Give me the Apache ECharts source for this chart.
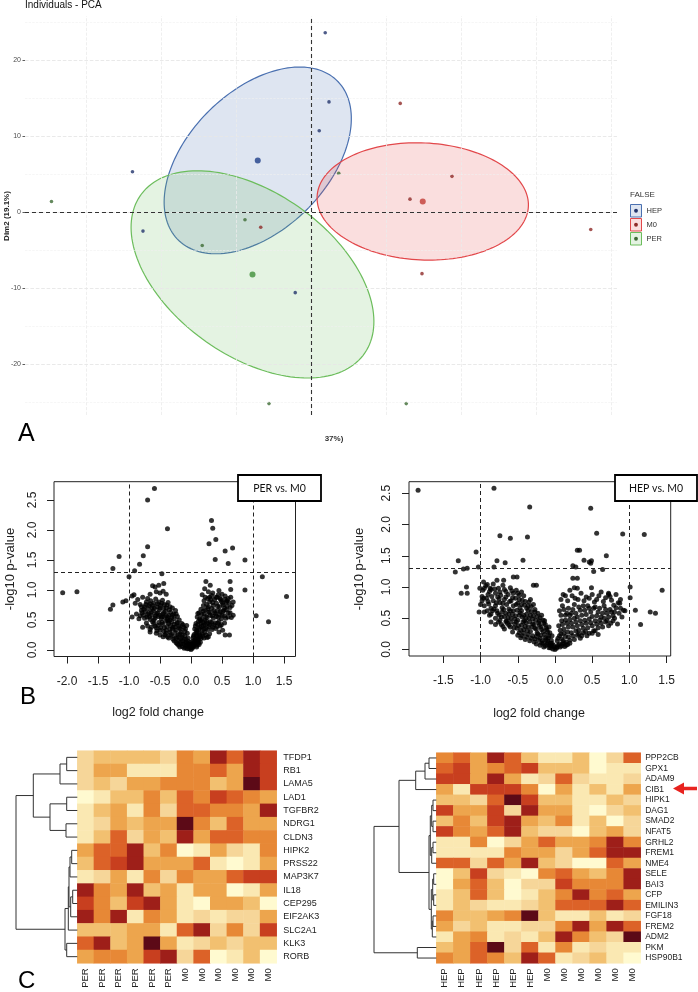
<!DOCTYPE html>
<html>
<head>
<meta charset="utf-8">
<script src="https://cdn.jsdelivr.net/npm/echarts@6/dist/echarts.min.js"></script>
<style>
html,body{margin:0;padding:0;background:#fff}
#main{width:698px;height:992px}
</style>
</head>
<body>
<div id="main"></div>
<script>
// ---------- A: PCA individuals ----------
const pcaHep = [[1.9,23.6],[2.4,14.5],[1.1,10.7],[-23.8,5.3],[-22.4,-2.5],[-2.1,-10.6]];
const pcaM0  = [[11.9,14.3],[18.8,4.7],[13.2,1.7],[37.3,-2.3],[14.8,-8.1],[-6.7,-2.0]];
const pcaPer = [[-34.6,1.4],[3.7,5.1],[-8.8,-1.0],[-14.5,-4.4],[-5.6,-25.2],[12.7,-25.2]];
const pcaCentroids = [[-7.1,6.8],[14.9,1.4],[-7.8,-8.2]];      // HEP, M0, PER
// concentration ellipses: centre x, centre y, semi-major, semi-minor, angle (deg)
const pcaEllipses = [[-7.1,6.8,14.9,9.2,44],[14.9,1.4,14.1,7.7,-2.6],[-7.8,-8.2,18.2,10.8,-34.6]];
const pcaGroups = ['HEP','M0','PER'];
const pcaYTicks = [-20,-10,0,10,20];
const pcaGridMajorY = [-20,-10,0,10,20];
const pcaGridMinorY = [-25,-15,-5,5,15,25];
const pcaGridX = [-30,-20,-10,0,10,20,30,40];

// ---------- B: volcano plots ----------
const volcLeftTicksX = [-2,-1.5,-1,-0.5,0,0.5,1,1.5];
const volcRightTicksX = [-1.5,-1,-0.5,0,0.5,1,1.5];
const volcTicksY = [0,0.5,1,1.5,2,2.5];
const fcCut = [-1,1];
const pCut = 1.3;

const perVsM0 = [
[-0.59,2.69],[-0.70,2.50],[-0.38,2.02],[0.33,2.16],[0.35,2.03],[0.40,1.84],[0.29,1.77],[0.55,1.65],[0.67,1.70],
[0.39,1.51],[0.60,1.44],[0.87,1.50],[-0.70,1.72],[-0.77,1.57],[-0.83,1.43],[-0.91,1.32],[-1.00,1.22],[-1.16,1.56],
[-1.26,1.36],[-2.07,0.955],[-1.84,0.97],[1.15,1.22],[0.87,1.0],[1.54,0.89],[1.05,0.57],[1.25,0.47],[-0.47,1.27],
[-0.44,1.11],[0.63,1.14],[0.64,1.01],[0.24,1.14],[0.31,1.08],[-1.30,0.68],[-1.26,0.75],[-1.10,0.80],[-1.05,0.82],
[-0.95,0.90],[-0.92,0.92],[-0.90,0.78],
[-0.62,1.07],[-0.58,1.05],[-0.52,1.08],[-0.56,0.97],[-0.50,0.95],[-0.45,0.98],[-0.40,0.93],[-0.66,0.93],
[0.22,1.02],[0.28,0.97],[0.35,0.95],[0.45,0.99],[0.50,0.93],[0.55,0.90],[0.42,0.88],[0.30,0.88],[0.58,0.82],[0.48,0.84],
[-0.86,0.84],[-0.82,0.76],[-0.78,0.88],[-0.75,0.72],[-0.72,0.80],[-0.70,0.86],[-0.68,0.74],[-0.65,0.82],[-0.63,0.70],
[-0.60,0.78],[-0.57,0.85],[-0.55,0.72],[-0.52,0.80],[-0.49,0.74],[-0.46,0.83],[-0.43,0.76],[-0.40,0.70],[-0.37,0.79],[-0.34,0.72],
[-0.95,0.55],[-0.88,0.60],[-0.84,0.52],[-0.80,0.66],[-0.77,0.58],[-0.74,0.64],[-0.71,0.55],[-0.68,0.62],[-0.66,0.51],
[-0.63,0.58],[-0.61,0.66],[-0.58,0.53],[-0.56,0.61],[-0.53,0.56],[-0.51,0.67],[-0.48,0.52],[-0.46,0.60],[-0.43,0.55],
[-0.41,0.64],[-0.38,0.51],[-0.36,0.58],[-0.33,0.63],[-0.31,0.54],[-0.28,0.60],[-0.25,0.66],[-0.22,0.56],
[-0.78,0.38],[-0.72,0.45],[-0.66,0.34],[-0.62,0.47],[-0.58,0.40],[-0.55,0.32],[-0.52,0.46],[-0.49,0.37],[-0.46,0.43],
[-0.44,0.31],[-0.41,0.48],[-0.39,0.39],[-0.36,0.44],[-0.34,0.34],[-0.31,0.47],[-0.29,0.38],[-0.27,0.43],[-0.24,0.33],
[-0.22,0.46],[-0.20,0.40],[-0.17,0.35],[-0.15,0.44],[-0.12,0.38],[-0.10,0.31],[-0.66,0.30],[-0.56,0.28],
[-0.50,0.25],[-0.45,0.22],[-0.40,0.28],[-0.36,0.20],[-0.32,0.26],[-0.29,0.18],[-0.26,0.29],[-0.23,0.22],[-0.20,0.16],
[-0.18,0.27],[-0.15,0.21],[-0.13,0.15],[-0.10,0.24],[-0.08,0.18],[-0.06,0.28],
[-0.24,0.12],[-0.20,0.08],[-0.17,0.13],[-0.14,0.06],[-0.12,0.10],[-0.09,0.04],[-0.07,0.12],[-0.05,0.07],[-0.03,0.02],
[-0.02,0.09],[0.0,0.01],[0.01,0.05],[-0.01,0.13],
[-0.80,0.72],[-0.76,0.68],[-0.73,0.76],[-0.69,0.69],[-0.66,0.77],[-0.62,0.74],[-0.59,0.69],[-0.54,0.77],[-0.50,0.70],
[-0.47,0.78],[-0.44,0.69],[-0.39,0.75],[-0.35,0.67],[-0.30,0.70],
[-0.82,0.57],[-0.79,0.62],[-0.75,0.53],[-0.70,0.59],[-0.67,0.55],[-0.64,0.63],[-0.60,0.50],[-0.57,0.57],[-0.54,0.62],
[-0.50,0.58],[-0.47,0.55],[-0.44,0.62],[-0.40,0.57],[-0.37,0.54],[-0.34,0.50],[-0.30,0.58],[-0.27,0.52],[-0.24,0.60],[-0.19,0.50],
[-0.70,0.40],[-0.64,0.38],[-0.60,0.44],[-0.56,0.37],[-0.53,0.41],[-0.50,0.33],[-0.47,0.46],[-0.43,0.37],[-0.40,0.33],
[-0.37,0.48],[-0.33,0.41],[-0.30,0.35],[-0.26,0.38],[-0.23,0.44],[-0.19,0.37],[-0.16,0.30],[-0.13,0.42],[-0.09,0.35],[-0.07,0.41],
[-0.42,0.25],[-0.38,0.22],[-0.34,0.29],[-0.30,0.23],[-0.27,0.15],[-0.24,0.19],[-0.21,0.25],[-0.17,0.19],[-0.14,0.25],
[-0.11,0.18],[-0.09,0.12],[-0.05,0.20],[-0.04,0.14],
[-0.22,0.10],[-0.18,0.05],[-0.16,0.10],[-0.11,0.03],[-0.08,0.08],[-0.06,0.02],[-0.04,0.10],[-0.02,0.05],[0.0,0.08],
[0.18,0.92],[0.21,0.82],[0.25,0.76],[0.27,0.86],[0.30,0.80],[0.33,0.91],[0.36,0.74],[0.38,0.84],[0.41,0.78],[0.44,0.92],
[0.46,0.72],[0.49,0.81],[0.52,0.75],[0.55,0.84],[0.58,0.73],[0.61,0.79],[0.64,0.88],[0.66,0.74],
[0.10,0.55],[0.13,0.62],[0.16,0.68],[0.18,0.52],[0.21,0.60],[0.23,0.67],[0.26,0.54],[0.28,0.63],[0.31,0.58],[0.33,0.69],
[0.36,0.53],[0.38,0.62],[0.41,0.56],[0.43,0.66],[0.46,0.59],[0.49,0.52],[0.51,0.64],[0.54,0.57],[0.57,0.67],[0.60,0.55],
[0.63,0.62],[0.68,0.58],
[0.06,0.35],[0.08,0.44],[0.10,0.31],[0.12,0.48],[0.14,0.38],[0.16,0.45],[0.18,0.33],[0.20,0.41],[0.22,0.49],[0.24,0.36],
[0.26,0.44],[0.29,0.39],[0.31,0.47],[0.34,0.34],[0.37,0.42],[0.40,0.36],[0.43,0.45],[0.47,0.40],[0.51,0.33],
[0.03,0.20],[0.05,0.26],[0.07,0.17],[0.09,0.24],[0.11,0.19],[0.13,0.28],[0.15,0.22],[0.18,0.27],[0.21,0.20],[0.24,0.25],
[0.28,0.22],[0.55,0.25],[0.62,0.25],[0.45,0.30],
[0.02,0.03],[0.03,0.10],[0.05,0.07],[0.07,0.12],[0.09,0.05],[0.11,0.14],[0.13,0.09],[0.15,0.13],[0.04,0.15],
[0.20,0.74],[0.23,0.88],[0.28,0.72],[0.32,0.84],[0.35,0.79],[0.40,0.88],[0.43,0.73],[0.47,0.86],[0.51,0.78],[0.54,0.70],
[0.57,0.80],[0.60,0.86],[0.63,0.71],[0.68,0.80],
[0.11,0.61],[0.14,0.52],[0.17,0.59],[0.20,0.65],[0.24,0.56],[0.27,0.69],[0.30,0.63],[0.34,0.57],[0.37,0.66],[0.40,0.60],
[0.44,0.54],[0.47,0.64],[0.50,0.58],[0.53,0.66],[0.56,0.53],[0.60,0.62],[0.65,0.54],
[0.07,0.40],[0.09,0.33],[0.11,0.42],[0.13,0.35],[0.15,0.49],[0.17,0.39],[0.19,0.46],[0.21,0.35],[0.23,0.42],[0.25,0.48],
[0.27,0.34],[0.30,0.42],[0.33,0.46],[0.35,0.38],[0.39,0.45],[0.42,0.39],[0.45,0.47],[0.49,0.42],[0.54,0.45],
[0.04,0.23],[0.06,0.16],[0.08,0.28],[0.10,0.22],[0.12,0.17],[0.14,0.25],[0.16,0.19],[0.19,0.23],[0.22,0.29],[0.26,0.21],[0.30,0.27],
[0.01,0.08],[0.03,0.05],[0.04,0.12],[0.06,0.10],[0.08,0.14],[0.10,0.08],[0.12,0.12]
];

const hepVsM0 = [
[-1.84,2.55],[-0.82,2.58],[-0.34,2.28],[0.48,2.26],[-0.74,1.82],[-0.60,1.78],[-0.37,1.80],[0.56,1.86],[0.91,1.85],
[1.20,1.84],[-1.06,1.56],[-1.30,1.42],[-1.34,1.24],[-1.23,1.29],[-1.18,1.30],[-1.03,1.32],[-0.78,1.42],[-0.67,1.39],
[-0.43,1.43],[-0.82,1.32],[0.30,1.59],[0.33,1.59],[0.24,1.34],[0.28,1.32],[0.39,1.43],[0.46,1.40],[0.49,1.42],
[0.48,1.38],[0.52,1.25],[0.69,1.50],[0.64,1.28],[-1.26,0.90],[-1.18,0.90],[-1.19,1.0],[-1.01,0.98],[-1.02,0.60],
[1.01,1.0],[1.44,0.95],[1.28,0.60],[1.35,0.58],[1.15,0.40],[1.01,0.83],[1.08,0.63],
[-0.78,1.11],[-0.69,1.11],[-0.56,1.16],[-0.51,1.16],[-0.29,1.03],[-0.25,1.03],[0.24,1.14],[0.30,1.14],[0.49,0.99],
[0.26,0.99],[0.30,0.98],[0.72,0.90],[0.74,0.85],[0.87,0.74],[0.92,0.63],[-0.96,1.08],[-0.91,1.04],[-0.87,0.98],
[-0.97,0.95],[-0.93,1.02],[-0.90,0.88],[-0.86,0.96],[-0.83,1.05],[-0.80,0.90],[-0.76,0.98],[-0.73,0.87],[-0.70,1.03],
[-0.66,0.93],[-0.63,0.88],[-0.60,0.99],[-0.56,0.90],[-0.52,0.95],[-0.48,0.87],[-0.45,0.92],
[-0.98,0.78],[-0.95,0.70],[-0.92,0.82],[-0.89,0.73],[-0.86,0.66],[-0.83,0.78],[-0.80,0.70],[-0.77,0.84],[-0.74,0.75],
[-0.71,0.67],[-0.68,0.80],[-0.65,0.72],[-0.62,0.65],[-0.59,0.78],[-0.56,0.70],[-0.53,0.82],[-0.50,0.74],[-0.47,0.67],
[-0.44,0.79],[-0.41,0.71],[-0.38,0.66],[-0.35,0.76],[-0.32,0.69],[-0.95,0.60],[-1.0,0.72],[-0.98,0.85],
[-0.88,0.55],[-0.84,0.62],[-0.80,0.50],[-0.77,0.58],[-0.74,0.47],[-0.71,0.60],[-0.68,0.53],[-0.65,0.46],[-0.62,0.57],
[-0.59,0.50],[-0.56,0.62],[-0.53,0.54],[-0.50,0.47],[-0.47,0.59],[-0.44,0.52],[-0.41,0.46],[-0.38,0.57],[-0.35,0.50],
[-0.32,0.61],[-0.29,0.54],[-0.26,0.47],[-0.23,0.58],[-0.20,0.51],[-0.86,0.44],[-0.80,0.40],
[-0.72,0.40],[-0.68,0.33],[-0.64,0.42],[-0.60,0.36],[-0.57,0.28],[-0.54,0.41],[-0.51,0.34],[-0.48,0.27],[-0.45,0.39],
[-0.42,0.32],[-0.39,0.43],[-0.36,0.36],[-0.33,0.29],[-0.30,0.41],[-0.27,0.34],[-0.24,0.27],[-0.21,0.39],[-0.18,0.32],
[-0.15,0.42],[-0.12,0.35],[-0.10,0.28],
[-0.44,0.22],[-0.40,0.16],[-0.36,0.24],[-0.32,0.18],[-0.28,0.12],[-0.25,0.21],[-0.22,0.15],[-0.19,0.23],[-0.16,0.11],
[-0.13,0.19],[-0.10,0.14],[-0.08,0.22],[-0.06,0.10],
[-0.20,0.07],[-0.15,0.04],[-0.11,0.08],[-0.08,0.03],[-0.05,0.06],[-0.03,0.01],[-0.01,0.04],[0.0,0.0],
[-0.95,0.98],[-0.88,0.93],[-0.81,0.97],[-0.74,0.92],[-0.68,0.96],[-0.58,0.94],[-0.50,0.90],[-0.42,0.86],
[-0.96,0.82],[-0.90,0.77],[-0.85,0.85],[-0.79,0.75],[-0.75,0.81],[-0.70,0.74],[-0.66,0.84],[-0.61,0.77],[-0.57,0.83],
[-0.52,0.72],[-0.48,0.80],[-0.45,0.72],[-0.40,0.77],[-0.36,0.70],[-0.33,0.80],[-0.29,0.72],[-0.27,0.64],
[-0.91,0.62],[-0.86,0.57],[-0.82,0.65],[-0.78,0.62],[-0.75,0.55],[-0.72,0.52],[-0.69,0.64],[-0.66,0.58],[-0.63,0.51],
[-0.60,0.62],[-0.57,0.56],[-0.54,0.49],[-0.51,0.63],[-0.48,0.55],[-0.45,0.62],[-0.42,0.55],[-0.39,0.50],[-0.36,0.63],
[-0.33,0.55],[-0.30,0.49],[-0.27,0.60],[-0.24,0.53],[-0.21,0.46],[-0.18,0.55],[-0.16,0.47],
[-0.76,0.44],[-0.70,0.37],[-0.66,0.45],[-0.62,0.39],[-0.59,0.44],[-0.55,0.35],[-0.52,0.44],[-0.49,0.38],[-0.46,0.31],
[-0.43,0.44],[-0.40,0.37],[-0.37,0.30],[-0.34,0.44],[-0.31,0.36],[-0.28,0.40],[-0.25,0.33],[-0.22,0.43],[-0.19,0.36],
[-0.16,0.29],[-0.13,0.40],[-0.11,0.32],[-0.08,0.36],[-0.14,0.46],
[-0.50,0.23],[-0.46,0.19],[-0.42,0.26],[-0.38,0.20],[-0.34,0.14],[-0.30,0.22],[-0.27,0.17],[-0.23,0.25],[-0.20,0.18],
[-0.17,0.14],[-0.14,0.24],[-0.12,0.16],[-0.09,0.19],[-0.07,0.27],[-0.05,0.15],[-0.04,0.22],
[-0.25,0.09],[-0.18,0.10],[-0.13,0.06],[-0.10,0.11],[-0.07,0.07],[-0.04,0.10],[-0.02,0.07],[-0.06,0.03],
[0.08,0.80],[0.14,0.86],[0.20,0.95],[0.27,0.82],[0.35,0.90],[0.42,0.84],[0.50,0.88],[0.56,0.80],[0.62,0.92],[0.68,0.83],
[0.76,0.79],[0.82,0.88],[0.88,0.80],
[0.06,0.62],[0.10,0.70],[0.14,0.55],[0.18,0.66],[0.22,0.58],[0.26,0.72],[0.30,0.52],[0.34,0.63],[0.38,0.70],[0.42,0.56],
[0.46,0.66],[0.50,0.53],[0.54,0.68],[0.58,0.60],[0.62,0.52],[0.66,0.70],[0.70,0.58],[0.74,0.64],[0.78,0.54],[0.82,0.67],
[0.86,0.58],[0.90,0.52],[0.94,0.62],
[0.05,0.38],[0.09,0.46],[0.12,0.33],[0.16,0.42],[0.20,0.48],[0.24,0.36],[0.28,0.44],[0.32,0.31],[0.36,0.40],[0.40,0.47],
[0.44,0.35],[0.48,0.43],[0.52,0.30],[0.56,0.41],[0.60,0.47],[0.64,0.36],[0.68,0.44],[0.72,0.38],[0.78,0.46],[0.84,0.41],
[0.03,0.14],[0.06,0.22],[0.09,0.17],[0.12,0.26],[0.15,0.12],[0.18,0.20],[0.22,0.27],[0.26,0.16],[0.30,0.23],[0.34,0.18],
[0.38,0.27],[0.43,0.22],[0.50,0.26],[0.58,0.24],
[0.02,0.02],[0.04,0.07],[0.07,0.04],[0.10,0.09],[0.13,0.05],[0.17,0.08],
[0.11,0.88],[0.17,0.78],[0.23,0.86],[0.31,0.80],[0.39,0.78],[0.46,0.82],[0.53,0.76],[0.59,0.86],[0.65,0.77],[0.72,0.88],
[0.79,0.71],[0.85,0.75],
[0.08,0.55],[0.12,0.64],[0.16,0.58],[0.20,0.55],[0.24,0.64],[0.28,0.58],[0.32,0.68],[0.36,0.55],[0.40,0.63],[0.44,0.70],
[0.48,0.60],[0.52,0.66],[0.56,0.54],[0.60,0.66],[0.64,0.58],[0.68,0.64],[0.72,0.52],[0.76,0.60],[0.80,0.60],[0.88,0.66],
[0.07,0.31],[0.10,0.40],[0.14,0.47],[0.18,0.36],[0.22,0.42],[0.26,0.50],[0.30,0.38],[0.34,0.46],[0.38,0.34],[0.42,0.42],
[0.46,0.49],[0.50,0.38],[0.54,0.46],[0.58,0.35],[0.62,0.42],[0.66,0.50],[0.70,0.46],[0.75,0.42],[0.80,0.50],
[0.04,0.18],[0.08,0.25],[0.11,0.14],[0.14,0.21],[0.17,0.28],[0.20,0.15],[0.24,0.22],[0.28,0.30],[0.32,0.25],[0.36,0.22],
[0.41,0.29],[0.46,0.26],[0.54,0.30],
[0.03,0.04],[0.06,0.09],[0.09,0.06],[0.12,0.10],[0.15,0.07],[0.20,0.10]
];

// ---------- C: heatmaps ----------
const heatLeftRows = ['TFDP1','RB1','LAMA5','LAD1','TGFBR2','NDRG1','CLDN3','HIPK2','PRSS22','MAP3K7','IL18','CEP295','EIF2AK3','SLC2A1','KLK3','RORB'];
const heatLeftCols = ['PER','PER','PER','PER','PER','PER','M0','M0','M0','M0','M0','M0'];
const heatLeftValues = [
[2,3,3,3,3,2,5,4,8,6,8,7],
[2,4,4,1,1,1,5,5,6,4,8,7],
[2,3,2,4,4,5,5,5,3,4,9,7],
[0,1,3,3,5,3,6,5,7,6,5,4],
[1,3,4,1,5,2,6,6,5,5,4,8],
[1,2,4,3,4,4,9,5,3,6,4,4],
[1,3,6,2,4,3,8,4,6,6,5,5],
[4,6,6,8,3,5,0,1,4,2,1,5],
[3,6,7,8,4,4,4,6,1,0,1,4],
[1,2,4,1,5,2,5,4,4,6,7,7],
[8,5,4,8,3,4,1,4,4,0,1,4],
[7,5,3,7,8,4,1,0,4,4,3,0],
[8,5,8,1,5,4,1,2,1,2,2,4],
[3,3,3,4,4,1,6,8,2,5,2,7],
[6,8,3,4,9,4,1,2,3,2,3,3],
[4,5,5,4,7,8,2,6,0,1,3,0]
];
const heatRightRows = ['PPP2CB','GPX1','ADAM9','CIB1','HIPK1','DAG1','SMAD2','NFAT5','GRHL2','FREM1','NME4','SELE','BAI3','CFP','EMILIN3','FGF18','FREM2','ADM2','PKM','HSP90B1'];
const heatRightCols = ['HEP','HEP','HEP','HEP','HEP','HEP','M0','M0','M0','M0','M0','M0'];
const heatRightValues = [
[5,6,4,8,6,3,1,1,3,0,2,6],
[6,7,4,5,6,7,3,3,3,0,1,1],
[7,7,4,8,4,1,2,6,2,1,1,2],
[4,1,7,7,7,5,0,4,1,3,1,4],
[3,3,2,6,9,7,3,3,1,1,3,2],
[7,4,4,7,2,8,4,4,1,0,2,3],
[3,5,3,7,8,4,3,5,1,3,0,2],
[7,5,4,6,8,3,2,2,0,3,4,2],
[1,1,5,0,2,4,6,4,4,5,8,5],
[1,1,1,1,5,4,4,2,4,6,8,8],
[6,6,2,6,4,8,3,2,0,0,6,4],
[0,3,7,2,1,0,5,6,4,3,5,8],
[0,4,6,3,0,2,2,7,5,5,5,8],
[1,3,6,3,0,1,3,5,8,5,6,4],
[1,3,2,1,1,2,3,6,6,6,8,6],
[5,3,3,4,5,9,3,1,1,3,1,2],
[4,2,3,1,1,2,2,5,8,4,8,6],
[1,4,5,1,2,1,3,8,5,3,2,9],
[3,4,6,9,2,6,1,5,1,2,1,1],
[5,4,6,5,3,8,6,1,2,3,1,0]
];
// row dendrograms, hclust style: negative = leaf, positive = earlier merge (1-based); last = height
const dendroLeft = [
[-1,-2,10.6],[1,-3,17.3],[-4,-5,10.6],[-6,-7,11.3],[3,4,27.3],[2,5,44],
[-11,-12,4.6],[7,-13,6.6],[-8,-9,5.6],[9,-10,7.3],[10,8,8.3],[11,-14,9],[-15,-16,10.6],[12,13,12.3],[6,14,61.3]
];
const dendroRight = [
[-1,-2,7.3],[1,-3,11.3],[2,-4,20.6],[-5,-6,3.3],[-7,-8,3.3],[4,5,4.6],[-9,-10,3.3],[7,-11,4.6],[6,8,6],
[-12,-13,2.6],[-14,-15,2.6],[10,11,3.6],[-16,-17,3.3],[13,-18,4],[12,14,5],[9,15,7.3],[3,16,37.3],
[-19,-20,19],[17,18,62.3]
];

const heatColors = ['#FFFAD0','#FAE8B2','#F6D699','#F2C070','#EDA54D','#E78836','#DC6228','#C83F1F','#9E1F19','#5C0A17'];
const groupLine = ['#4A70B0','#E2474A','#6CBD5C'];
const groupPoint = ['#22336B','#8E2A28','#3D6B34'];
const groupCentroid = ['#1E3F8A','#C23B35','#3F8F38'];

const FONT = 'Liberation Sans, Arial, sans-serif';

function toCells(values) {
  const out = [];
  values.forEach((row, r) => row.forEach((v, c) => out.push([c, r, v])));
  return out;
}
function dendroSegments(merges) {
  const nodes = [];
  const pos = id => id < 0 ? [0, -id - 1 + 0.5] : nodes[id - 1];
  const segs = [];
  merges.forEach(([a, b, h]) => {
    const pa = pos(a), pb = pos(b);
    segs.push([pa[0], pa[1], h, pa[1]], [pb[0], pb[1], h, pb[1]], [h, pa[1], h, pb[1]]);
    nodes.push([h, (pa[1] + pb[1]) / 2]);
  });
  return segs;
}

const chart = echarts.init(document.getElementById('main'), null, {renderer: 'canvas'});

const hiddenAxis = (gridIndex, extra) => Object.assign({gridIndex, type: 'value', show: false}, extra);

function volcX(gridIndex, min, max, ticks) {
  return {
    gridIndex, type: 'value', min, max,
    axisLine: {show: false, onZero: false},
    splitLine: {show: false},
    axisTick: {show: true, length: 7, customValues: ticks, lineStyle: {color: '#222', width: 1}},
    axisLabel: {customValues: ticks, margin: 19, fontSize: 12, color: '#222', fontFamily: FONT,
      formatter: v => v.toFixed(1)}
  };
}
function volcY(gridIndex, min, max, margin) {
  return {
    gridIndex, type: 'value', min, max,
    axisLine: {show: false, onZero: false},
    splitLine: {show: false},
    axisTick: {show: true, length: 7, customValues: volcTicksY, lineStyle: {color: '#222', width: 1}},
    axisLabel: {customValues: volcTicksY, rotate: 90, margin, fontSize: 12, color: '#222', fontFamily: FONT,
      formatter: v => v.toFixed(1)}
  };
}
function volcSeries(idx, data) {
  return {
    type: 'scatter', xAxisIndex: idx, yAxisIndex: idx, data, symbolSize: 5, silent: true,
    itemStyle: {color: '#000'},
    markLine: {
      silent: true, symbol: 'none', label: {show: false},
      lineStyle: {color: '#222', width: 1, type: [4, 3]},
      data: [{xAxis: fcCut[0]}, {xAxis: fcCut[1]}, {yAxis: pCut}]
    }
  };
}
function heatX(gridIndex, names) {
  return {
    gridIndex, type: 'category', data: names.map((n, i) => String(i)),
    axisLine: {show: false}, axisTick: {show: false}, splitLine: {show: false},
    axisLabel: {interval: 0, rotate: 90, margin: 5, fontSize: 9.5, color: '#222', fontFamily: FONT,
      formatter: v => names[+v]}
  };
}
function heatY(gridIndex, names, fs, margin) {
  return {
    gridIndex, type: 'category', data: names, inverse: true, position: 'right',
    axisLine: {show: false}, axisTick: {show: false}, splitLine: {show: false},
    axisLabel: {interval: 0, margin, fontSize: fs, color: '#222', fontFamily: FONT}
  };
}
function dendroSeries(idx, merges) {
  return {
    type: 'custom', xAxisIndex: idx, yAxisIndex: idx, silent: true,
    data: dendroSegments(merges),
    encode: {x: [0, 2], y: [1, 3]},
    renderItem: (p, api) => {
      const s = api.coord([api.value(0), api.value(1)]);
      const e = api.coord([api.value(2), api.value(3)]);
      return {type: 'line', shape: {x1: s[0], y1: s[1], x2: e[0], y2: e[1]},
        style: {stroke: '#333', lineWidth: 1}};
    }
  };
}

const gridMarks = [
  ...pcaGridX.map(v => ({xAxis: v, lineStyle: {color: '#EBEBEB', width: 0.8}})),
  ...pcaGridMajorY.map(v => ({yAxis: v, lineStyle: {color: '#E6E6E6', width: 0.9}})),
  ...pcaGridMinorY.map(v => ({yAxis: v, lineStyle: {color: '#F0F0F0', width: 0.6}}))
];

const legendGraphics = [];
pcaGroups.forEach((g, i) => {
  const y = 204.5 + i * 14;
  legendGraphics.push(
    {type: 'rect', shape: {x: 630.5, y, width: 11, height: 12.5},
      style: {fill: echarts.color.modifyAlpha(groupLine[i], 0.18), stroke: groupLine[i], lineWidth: 1}, z: 100},
    {type: 'circle', shape: {cx: 636, cy: y + 6.25, r: 1.9}, style: {fill: groupPoint[i]}, z: 101},
    {type: 'text', x: 646.5, y: y + 6.5, style: {text: g, fontSize: 7.5, fill: '#333', font: '7.5px ' + FONT,
      align: 'left', verticalAlign: 'middle'}, z: 101}
  );
});

function txt(x, y, text, size, opts) {
  return Object.assign({type: 'text', x, y, z: 100,
    style: Object.assign({text, fill: '#222', font: size + 'px ' + FONT, align: 'center', verticalAlign: 'middle'},
      (opts && opts.style) || {})}, opts && opts.el || {});
}
function titleBox(x, y, w, h, text) {
  return [
    {type: 'rect', shape: {x, y, width: w, height: h}, style: {fill: '#fff', stroke: '#000', lineWidth: 1.8}, z: 100},
    {type: 'text', x: x + w / 2, y: y + h / 2 + 0.5, z: 101,
      style: {text, fill: '#111', font: '10.5px Lato, ' + FONT, align: 'center', verticalAlign: 'middle'}}
  ];
}

const option = {
  animation: false,
  backgroundColor: '#fff',
  grid: [
    {left: 25, top: 16, width: 592, height: 399},
    {left: 54, top: 481.7, width: 241.5, height: 174.8, show: true, borderColor: '#222', borderWidth: 1, backgroundColor: 'transparent'},
    {left: 409, top: 481.7, width: 261.7, height: 174.3, show: true, borderColor: '#222', borderWidth: 1, backgroundColor: 'transparent'},
    {left: 77.3, top: 750.7, width: 199.4, height: 212.6},
    {left: 436.3, top: 752.7, width: 204.4, height: 210.6},
    {left: 15, top: 750.7, width: 62.3, height: 212.6},
    {left: 374, top: 752.7, width: 62.3, height: 210.6}
  ],
  xAxis: [
    {gridIndex: 0, type: 'value', min: -38.13, max: 40.8, axisLine: {show: false, onZero: false},
      axisTick: {show: false}, axisLabel: {show: false}, splitLine: {show: false}},
    volcX(1, -2.21, 1.685, volcLeftTicksX),
    volcX(2, -1.962, 1.555, volcRightTicksX),
    heatX(3, heatLeftCols),
    heatX(4, heatRightCols),
    hiddenAxis(5, {min: 0, max: 62.3, inverse: true}),
    hiddenAxis(6, {min: 0, max: 62.3, inverse: true})
  ],
  yAxis: [
    {gridIndex: 0, type: 'value', min: -26.7, max: 25.8, axisLine: {show: false, onZero: false},
      splitLine: {show: false},
      axisTick: {show: true, length: 2.5, customValues: pcaYTicks, lineStyle: {color: '#333', width: 0.8}},
      axisLabel: {customValues: pcaYTicks, margin: 4, fontSize: 7, color: '#4D4D4D', fontFamily: FONT}},
    volcY(1, -0.108, 2.805, 15),
    volcY(2, -0.104, 2.685, 16),
    heatY(3, heatLeftRows, 9, 6.5),
    heatY(4, heatRightRows, 8.5, 4.5),
    hiddenAxis(5, {min: 0, max: heatLeftRows.length, inverse: true}),
    hiddenAxis(6, {min: 0, max: heatRightRows.length, inverse: true})
  ],
  visualMap: {
    type: 'continuous', show: false, min: 0, max: 9, seriesIndex: [10, 11],
    inRange: {color: heatColors}
  },
  series: [
    // 0: PCA gridlines
    {type: 'scatter', xAxisIndex: 0, yAxisIndex: 0, data: [], silent: true, z: 1,
      markLine: {silent: true, symbol: 'none', label: {show: false}, data: gridMarks}},
    // 1: ellipses
    {type: 'custom', xAxisIndex: 0, yAxisIndex: 0, silent: true, z: 2,
      data: pcaEllipses, encode: {x: 0, y: 1},
      renderItem: (p, api) => {
        const cx = api.value(0), cy = api.value(1), a = api.value(2), b = api.value(3);
        const ang = api.value(4) * Math.PI / 180;
        const pts = [];
        for (let k = 0; k < 160; k++) {
          const t = k / 160 * 2 * Math.PI;
          const ex = a * Math.cos(t), ey = b * Math.sin(t);
          pts.push(api.coord([cx + ex * Math.cos(ang) - ey * Math.sin(ang), cy + ex * Math.sin(ang) + ey * Math.cos(ang)]));
        }
        const c = groupLine[p.dataIndex];
        return {type: 'polygon', shape: {points: pts},
          style: {fill: echarts.color.modifyAlpha(c, 0.18), stroke: c, lineWidth: 1.2}};
      }},
    // 2: zero lines
    {type: 'scatter', xAxisIndex: 0, yAxisIndex: 0, data: [], silent: true, z: 3,
      markLine: {silent: true, symbol: 'none', label: {show: false},
        lineStyle: {color: '#333', width: 1.1, type: [4, 3]},
        data: [{xAxis: 0}, {yAxis: 0}]}},
    // 3-5: individuals
    {type: 'scatter', xAxisIndex: 0, yAxisIndex: 0, data: pcaHep, symbolSize: 3.6, silent: true, z: 4, itemStyle: {color: groupPoint[0]}},
    {type: 'scatter', xAxisIndex: 0, yAxisIndex: 0, data: pcaM0, symbolSize: 3.6, silent: true, z: 4, itemStyle: {color: groupPoint[1]}},
    {type: 'scatter', xAxisIndex: 0, yAxisIndex: 0, data: pcaPer, symbolSize: 3.6, silent: true, z: 4, itemStyle: {color: groupPoint[2]}},
    // 6: centroids
    {type: 'scatter', xAxisIndex: 0, yAxisIndex: 0, data: pcaCentroids, symbolSize: 6, silent: true, z: 5,
      itemStyle: {color: p => groupCentroid[p.dataIndex]}},
    // 7: placeholder keeps indices tidy
    {type: 'scatter', xAxisIndex: 0, yAxisIndex: 0, data: [], silent: true},
    // 8-9: volcano
    volcSeries(1, perVsM0),
    volcSeries(2, hepVsM0),
    // 10-11: heatmaps
    {type: 'heatmap', xAxisIndex: 3, yAxisIndex: 3, data: toCells(heatLeftValues), silent: true, itemStyle: {borderWidth: 0}},
    {type: 'heatmap', xAxisIndex: 4, yAxisIndex: 4, data: toCells(heatRightValues), silent: true, itemStyle: {borderWidth: 0}},
    // 12-13: dendrograms
    dendroSeries(5, dendroLeft),
    dendroSeries(6, dendroRight)
  ],
  graphic: [
    txt(25, 5.5, 'Individuals - PCA', 10, {style: {align: 'left', fill: '#111'}}),
    txt(6.5, 216, 'Dim2 (19.1%)', 8, {el: {rotation: Math.PI / 2}, style: {font: 'bold 8px ' + FONT, fill: '#222'}}),
    txt(334, 439, '37%)', 8, {style: {font: 'bold 8px ' + FONT, fill: '#333'}}),
    txt(630, 195, 'FALSE', 8, {style: {align: 'left', fill: '#333'}}),
    ...legendGraphics,
    txt(18, 434, 'A', 25, {style: {align: 'left', fill: '#000'}}),
    txt(20, 697, 'B', 24, {style: {align: 'left', fill: '#000'}}),
    txt(18, 981, 'C', 24, {style: {align: 'left', fill: '#000'}}),
    txt(10, 569, '-log10 p-value', 13, {el: {rotation: Math.PI / 2}}),
    txt(359, 569, '-log10 p-value', 13, {el: {rotation: Math.PI / 2}}),
    txt(158, 713, 'log2 fold change', 12.5),
    txt(539, 714, 'log2 fold change', 12.5),
    ...titleBox(238, 475, 83, 26, 'PER vs. M0'),
    ...titleBox(615, 475, 82, 26, 'HEP vs. M0'),
    {type: 'polygon', z: 100, shape: {points: [[673, 788.5], [684, 782.5], [684, 786.8], [697, 786.8], [697, 790.2], [684, 790.2], [684, 794.5]]},
      style: {fill: '#E8231F'}}
  ]
};

chart.setOption(option);
</script>
</body>
</html>
